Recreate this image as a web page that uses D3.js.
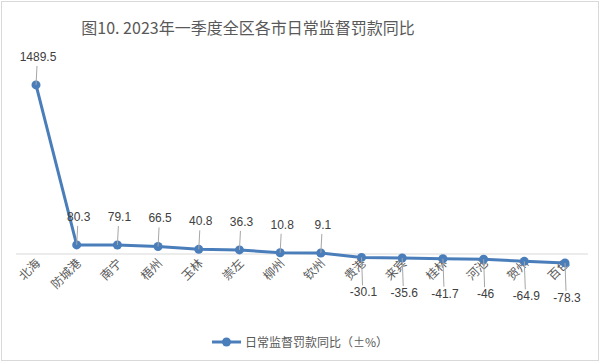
<!DOCTYPE html>
<html>
<head>
<meta charset="utf-8">
<script src="https://cdn.jsdelivr.net/npm/d3@7"></script>
<style>
  body { margin: 0; background: #fff; }
  svg { display: block; font-family: "Noto Sans CJK SC", "Noto Sans", sans-serif; }
</style>
</head>
<body>
<div id="chart"></div>
<script>
// cities and their year-on-year change (%)
const cities = ['北海', '防城港', '南宁', '梧州', '玉林', '崇左', '柳州', '钦州', '贵港', '来宾', '桂林', '河池', '贺州', '百色'];
const changes = [1489.5, 80.3, 79.1, 66.5, 40.8, 36.3, 10.8, 9.1, -30.1, -35.6, -41.7, -46, -64.9, -78.3];
const seriesName = '日常监督罚款同比（±%）';
const titleText = '图10. 2023年一季度全区各市日常监督罚款同比';

function drawChart() {
  const width = 600, height = 362;
  const lineColor = '#4a7ebb';

  const svg = d3.select('#chart').append('svg')
    .attr('width', width)
    .attr('height', height);

  // outer chart border
  svg.append('rect')
    .attr('x', 1.5).attr('y', 1.5)
    .attr('width', width - 3).attr('height', height - 3)
    .attr('fill', '#fff')
    .attr('stroke', '#d9d9d9');

  svg.append('text')
    .attr('x', 248)
    .attr('y', 34)
    .attr('text-anchor', 'middle')
    .attr('fill', '#595959')
    .style('font-size', '16px')
    .text(titleText);

  let x = d3.scalePoint()
    .domain(cities)
    .range([36, 565]);

  let y = d3.scaleLinear()
    .domain([-200, 1600])
    .range([276.7, 72.4]);

  // zero line
  svg.append('line')
    .attr('x1', 16).attr('x2', 588)
    .attr('y1', y(0)).attr('y2', y(0))
    .attr('stroke', '#d9d9d9')
    .attr('stroke-width', 1);

  // category labels, rotated
  svg.append('g').selectAll('text')
    .data(cities)
    .join('text')
    .attr('transform', d => 'translate(' + (x(d) + 5) + ',' + (y(0) + 10) + ') rotate(-45)')
    .attr('text-anchor', 'end')
    .attr('fill', '#595959')
    .style('font-size', '12px')
    .text(d => d);

  const points = cities.map((c, i) => ({city: c, value: changes[i]}));

  const line = d3.line()
    .x(d => x(d.city))
    .y(d => y(d.value));

  svg.append('path')
    .datum(points)
    .attr('d', line)
    .attr('fill', 'none')
    .attr('stroke', lineColor)
    .attr('stroke-width', 3)
    .attr('stroke-linejoin', 'round');

  svg.append('g').selectAll('circle')
    .data(points)
    .join('circle')
    .attr('cx', d => x(d.city))
    .attr('cy', d => y(d.value))
    .attr('r', 4.5)
    .attr('fill', lineColor);

  // data labels with leader lines
  const labels = svg.append('g');
  points.forEach(function (d) {
    let px = x(d.city), py = y(d.value);
    let pos = d.value >= 0;
    let ly = pos ? py - 24 : py + 39;
    labels.append('line')
      .attr('x1', px + 1).attr('x2', px)
      .attr('y1', pos ? ly + 5 : ly - 11)
      .attr('y2', py)
      .attr('stroke', '#a6a6a6')
      .attr('stroke-width', 1);
    labels.append('text')
      .attr('x', px + 2)
      .attr('y', ly)
      .attr('text-anchor', 'middle')
      .attr('fill', '#404040')
      .style('font-size', '12px')
      .style('font-family', '"Liberation Sans", Arial, sans-serif')
      .text(d.value);
  });

  // legend
  const legend = svg.append('g').attr('transform', 'translate(212,342)');
  legend.append('line')
    .attr('x1', 0).attr('x2', 29)
    .attr('stroke', lineColor)
    .attr('stroke-width', 3);
  legend.append('circle')
    .attr('cx', 14.5).attr('r', 4.5)
    .attr('fill', lineColor);
  legend.append('text')
    .attr('x', 33)
    .attr('y', 4.5)
    .attr('fill', '#595959')
    .style('font-size', '12px')
    .text(seriesName);
}

drawChart();
</script>
</body>
</html>
